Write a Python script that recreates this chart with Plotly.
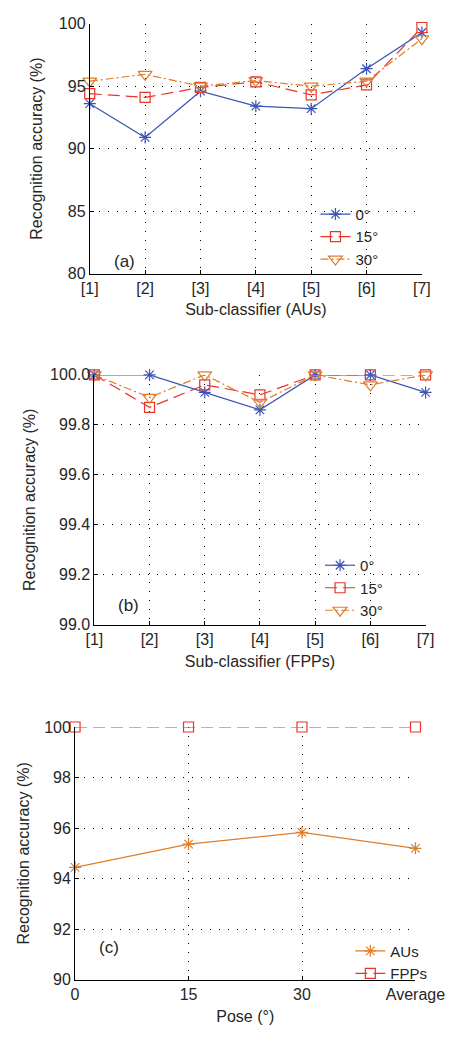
import plotly.graph_objects as go

# ---- data ----
au_classifiers = ["[1]", "[2]", "[3]", "[4]", "[5]", "[6]", "[7]"]
au_0 = [93.6, 90.9, 94.6, 93.4, 93.2, 96.4, 99.3]
au_15 = [94.4, 94.1, 94.9, 95.35, 94.3, 95.1, 99.7]
au_30 = [95.4, 95.95, 95.0, 95.45, 95.0, 95.4, 98.8]

fpp_classifiers = ["[1]", "[2]", "[3]", "[4]", "[5]", "[6]", "[7]"]
fpp_0 = [100.0, 100.0, 99.93, 99.86, 100.0, 100.0, 99.93]
fpp_15 = [100.0, 99.87, 99.96, 99.92, 100.0, 100.0, 100.0]
fpp_30 = [100.0, 99.91, 100.0, 99.89, 100.0, 99.96, 100.0]

poses = ["0", "15", "30", "Average"]
pose_aus = [94.45, 95.37, 95.83, 95.2]
pose_fpps = [100.0, 100.0, 100.0, 100.0]

BLUE = "#3a55b4"
RED = "#e8352b"
ORANGE = "#e07d26"
TXT = "#262626"
FONT = "Liberation Sans, Arial, sans-serif"

fig = go.Figure()

def add(xs, ys, name, color, dash, symbol, size, xa, ya, leg):
    fig.add_trace(go.Scatter(
        x=list(range(len(xs))), y=ys, name=name, mode="lines+markers",
        line=dict(color=color, width=1.2, dash=dash),
        marker=dict(symbol=symbol, size=size, color=color,
                    line=dict(color=color, width=1.2)),
        xaxis=xa, yaxis=ya, legend=leg, cliponaxis=False))

add(au_classifiers, au_0, "0°", BLUE, "solid", "asterisk-open", 10, "x", "y", "legend")
add(au_classifiers, au_15, "15°", RED, "12px,6px", "square-open", 10, "x", "y", "legend")
add(au_classifiers, au_30, "30°", ORANGE, "8px,3px,2px,3px", "triangle-down-open", 12, "x", "y", "legend")

add(fpp_classifiers, fpp_0, "0°", BLUE, "solid", "asterisk-open", 10, "x2", "y2", "legend2")
add(fpp_classifiers, fpp_15, "15°", RED, "12px,6px", "square-open", 10, "x2", "y2", "legend2")
add(fpp_classifiers, fpp_30, "30°", ORANGE, "8px,3px,2px,3px", "triangle-down-open", 12, "x2", "y2", "legend2")

add(poses, pose_aus, "AUs", ORANGE, "solid", "asterisk-open", 10, "x3", "y3", "legend3")
add(poses, pose_fpps, "FPPs", RED, "12px,6px", "square-open", 10, "x3", "y3", "legend3")

H = 1037.0
W = 473.0
def py(p):
    return 1 - p / H

FS = 16
axcommon = dict(showline=True, linecolor="black", linewidth=1, mirror=False,
                showgrid=True, gridcolor="black", griddash="1px,8px", gridwidth=1,
                ticks="inside", ticklen=4, tickcolor="black",
                tickfont=dict(size=FS, color=TXT, family=FONT),
                zeroline=False)

def xax(dom, labels, title, anchor):
    return dict(axcommon, domain=dom, anchor=anchor, range=[0, len(labels) - 1],
                tickvals=list(range(len(labels))), ticktext=labels,
                title=dict(text=title, font=dict(size=FS, color=TXT, family=FONT), standoff=8))

def yax(dom, rng, dtick, fmt, anchor, standoff):
    return dict(axcommon, domain=dom, anchor=anchor, range=rng, dtick=dtick, tickformat=fmt,
                title=dict(text="Recognition accuracy (%)", font=dict(size=FS, color=TXT, family=FONT),
                           standoff=standoff))

fig.update_layout(
    width=473, height=1037,
    margin=dict(l=0, r=0, t=0, b=0),
    paper_bgcolor="white", plot_bgcolor="white",
    font=dict(family=FONT, color=TXT),
    xaxis=xax([88 / W, 450 / W], au_classifiers, "Sub-classifier (AUs)", "y"),
    yaxis=yax([py(270), py(16)], [80, 100], 5, "d", "x", 12),
    xaxis2=xax([93 / W, 454 / W], fpp_classifiers, "Sub-classifier (FPPs)", "y2"),
    yaxis2=yax([py(627), py(373)], [99.0, 100.0], 0.2, ".1f", "x2", 10),
    xaxis3=xax([72 / W, 443 / W], poses, "Pose (°)", "y3"),
    yaxis3=yax([py(988), py(731)], [90, 100], 2, "d", "x3", 10),
)

legcommon = dict(bgcolor="rgba(0,0,0,0)", borderwidth=0, font=dict(size=15, color=TXT, family=FONT),
                 xanchor="left", yanchor="top", tracegroupgap=0, itemwidth=30)
fig.update_layout(
    legend=dict(legcommon, x=334 / W, y=py(193)),
    legend2=dict(legcommon, x=339 / W, y=py(550)),
    legend3=dict(legcommon, x=372 / W, y=py(942)),
)

annfont = dict(size=17, color=TXT, family=FONT)
fig.add_annotation(text="(a)", xref="paper", yref="paper", x=112 / W, y=py(246), showarrow=False, font=annfont)
fig.add_annotation(text="(b)", xref="paper", yref="paper", x=117 / W, y=py(607), showarrow=False, font=annfont)
fig.add_annotation(text="(c)", xref="paper", yref="paper", x=96 / W, y=py(967), showarrow=False, font=annfont)

fig.write_html("out.html")
